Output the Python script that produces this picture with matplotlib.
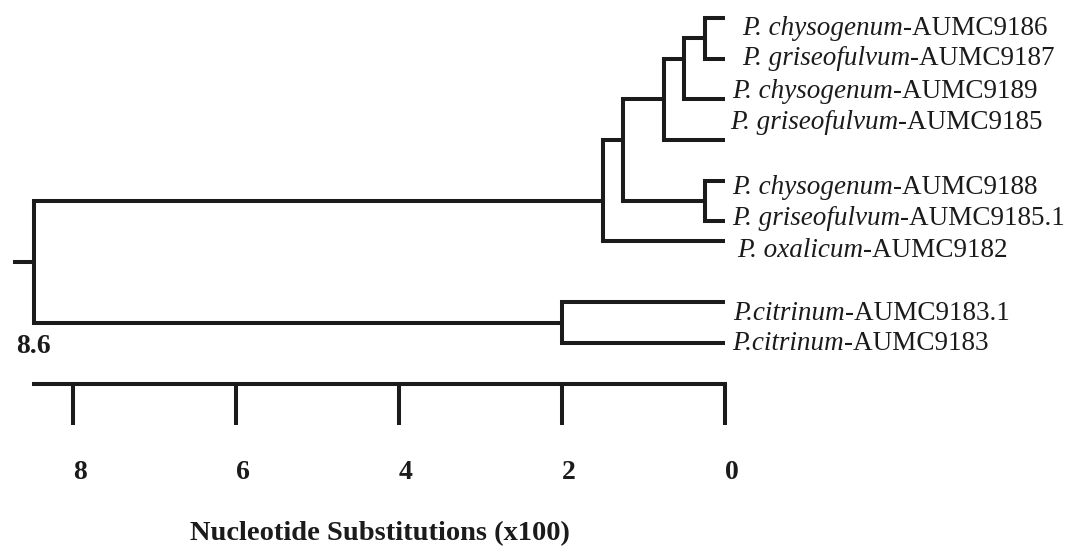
import matplotlib.pyplot as plt
from matplotlib.transforms import ScaledTranslation

# leaves, top to bottom
leaf_species = ['P. chysogenum', 'P. griseofulvum', 'P. chysogenum', 'P. griseofulvum',
                'P. chysogenum', 'P. griseofulvum', 'P. oxalicum', 'P.citrinum', 'P.citrinum']
leaf_codes = ['AUMC9186', 'AUMC9187', 'AUMC9189', 'AUMC9185',
              'AUMC9188', 'AUMC9185.1', 'AUMC9182', 'AUMC9183.1', 'AUMC9183']
leaf_rows = [0, 1, 2, 3, 4, 5, 5.5, 7, 8]

# internal nodes (height in substitutions x100)
node_keys = ['A', 'B', 'C', 'D', 'E', 'F', 'G', 'R']
node_children = [(0, 1), ('A', 2), ('B', 3), (4, 5), ('C', 'D'), ('E', 6), (7, 8), ('F', 'G')]
node_heights = [0.25, 0.5, 0.75, 0.25, 1.25, 1.5, 2.0, 8.48]
node_rows = [0.5, 1.0, 2.0, 4.5, 3.0, 4.5, 7.5, 6.0]
root_stub = 8.74
root_label = '8.6'

scale_ticks = [8, 6, 4, 2, 0]
axis_title = 'Nucleotide Substitutions (x100)'

# label placement (baseline row, extra indent px)
label_rows = [0.42, 1.16, 1.97, 2.73, 4.33, 5.09, 5.88, 7.43, 8.17]
label_indent = [10, 10, 0, -2, 0, 0, 5, 1, 0]

ink = '#1b1b1b'
lw = 2.9
plt.rcParams['font.family'] = ['Liberation Serif', 'DejaVu Serif']

W, H = 1065, 547
px_unit = 81.5      # px per unit of x
px_row = 40.625     # px per leaf row
x0_px, y0_px = 725, 18   # pixel of x=0, row=0

fig = plt.figure(figsize=(W / 100, H / 100), dpi=100)
ax = fig.add_axes([0, 0, 1, 1])
ax.set_xlim(x0_px / px_unit, -(W - x0_px) / px_unit)
ax.set_ylim((H - y0_px) / px_row, -y0_px / px_row)
ax.axis('off')

pos = {i: (0.0, r) for i, r in enumerate(leaf_rows)}
for k, h, r in zip(node_keys, node_heights, node_rows):
    pos[k] = (h, r)

for k, (c1, c2), h in zip(node_keys, node_children, node_heights):
    x1, y1 = pos[c1]
    x2, y2 = pos[c2]
    ax.plot([x1, h, h, x2], [y1, y1, y2, y2], color=ink, lw=lw,
            solid_joinstyle='miter', solid_capstyle='butt')
ax.plot([root_stub, node_heights[-1]], [node_rows[-1]] * 2, color=ink, lw=lw,
        solid_capstyle='butt')

# leaf labels: italic species + roman strain code
for sp, code, row, dx in zip(leaf_species, leaf_codes, label_rows, label_indent):
    off = ScaledTranslation((7 + dx) / 100, 0, fig.dpi_scale_trans)
    t = ax.text(0, row, sp, style='italic', fontsize=19.5, color=ink,
                ha='left', va='baseline', transform=ax.transData + off)
    ax.annotate('-' + code, xy=(1, 0), xycoords=t, fontsize=19.5, color=ink,
                ha='left', va='bottom')

ax.text(node_heights[-1], 8.25, root_label, fontsize=20, fontweight='bold', color=ink,
        ha='center', va='baseline')

# scale bar
bar_px = 384
ax2 = fig.add_axes([0, (H - bar_px) / H, 1, 0.05])
ax2.set_xlim(ax.get_xlim())
ax2.patch.set_visible(False)
for s in ['top', 'left', 'right']:
    ax2.spines[s].set_visible(False)
ax2.spines['bottom'].set_bounds(node_heights[-1], 0)
ax2.spines['bottom'].set_linewidth(lw)
ax2.spines['bottom'].set_color(ink)
ax2.set_yticks([])
ax2.set_xticks(scale_ticks)
ax2.tick_params(axis='x', length=41 * 0.72, width=lw, color=ink, direction='out',
                pad=25, labelcolor=ink)
ax2.set_xticklabels([str(v) for v in scale_ticks], fontsize=20, fontweight='bold')
for lbl in ax2.get_xticklabels():
    lbl.set_transform(lbl.get_transform() + ScaledTranslation(0.07, 0, fig.dpi_scale_trans))

ax.text(node_heights[-1] / 2, 12.86, axis_title, fontsize=20.5, fontweight='bold',
        color=ink, ha='center', va='baseline')

fig.savefig('out.png', dpi=100)
